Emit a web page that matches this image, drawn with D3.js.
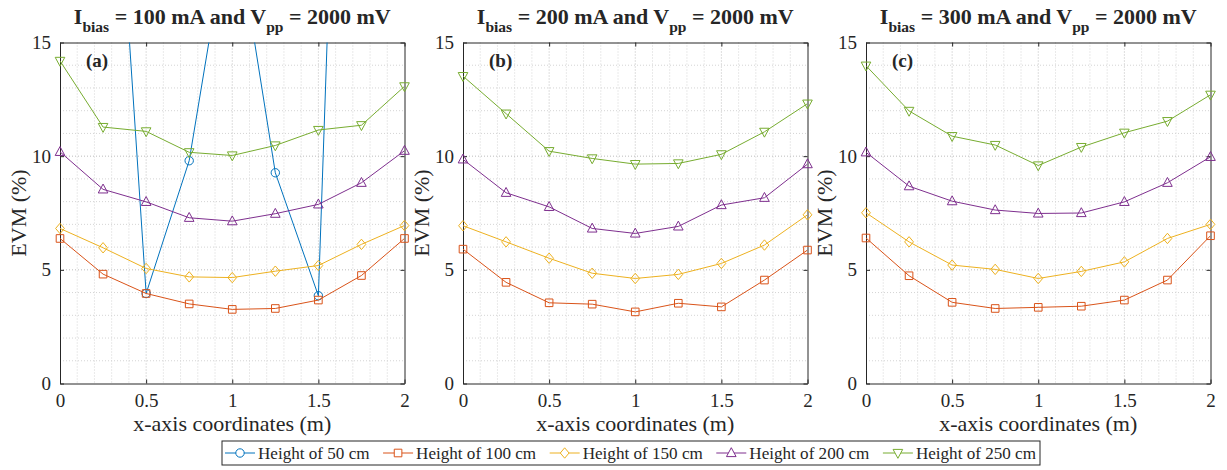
<!DOCTYPE html>
<html>
<head>
<meta charset="utf-8">
<script src="https://cdn.jsdelivr.net/npm/d3@7"></script>
<style>
  html, body { margin: 0; padding: 0; background: #fff; }
  svg { display: block; }
</style>
</head>
<body>
<svg id="chart" width="1227" height="470" font-family="Liberation Serif"></svg>
<script>
// x positions along the measurement line (m)
const xCoords = [0, 0.25, 0.5, 0.75, 1, 1.25, 1.5, 1.75, 2];
const xTicks = [0, 0.5, 1, 1.5, 2];
const yTicks = [0, 5, 10, 15];

const seriesNames = ["Height of 50 cm", "Height of 100 cm", "Height of 150 cm", "Height of 200 cm", "Height of 250 cm"];
const seriesColors = ["#0072BD", "#D95319", "#EDB120", "#7E2F8E", "#77AC30"];
const seriesMarkers = ["circle", "square", "diamond", "triangleUp", "triangleDown"];

const panelLetters = ["(a)", "(b)", "(c)"];
const biasCurrents = ["100", "200", "300"];

// EVM (%) at Ibias = 100 mA
const evm100_h50  = [45, 32.6, 3.96, 9.80, 21.2, 9.27, 3.86, 59, 70];
const evm100_h100 = [6.38, 4.81, 3.96, 3.50, 3.26, 3.30, 3.67, 4.75, 6.38];
const evm100_h150 = [6.82, 5.97, 5.06, 4.69, 4.66, 4.94, 5.19, 6.12, 6.95];
const evm100_h200 = [10.19, 8.54, 7.99, 7.29, 7.14, 7.47, 7.88, 8.83, 10.24];
const evm100_h250 = [14.19, 11.28, 11.09, 10.17, 10.03, 10.47, 11.15, 11.36, 13.07];

// EVM (%) at Ibias = 200 mA
const evm200_h100 = [5.91, 4.45, 3.55, 3.49, 3.15, 3.53, 3.37, 4.55, 5.87];
const evm200_h150 = [6.94, 6.23, 5.51, 4.85, 4.62, 4.80, 5.28, 6.09, 7.42];
const evm200_h200 = [9.86, 8.39, 7.77, 6.82, 6.60, 6.91, 7.85, 8.17, 9.65];
const evm200_h250 = [13.52, 11.87, 10.22, 9.90, 9.65, 9.68, 10.08, 11.07, 12.31];

// EVM (%) at Ibias = 300 mA
const evm300_h100 = [6.40, 4.74, 3.57, 3.30, 3.35, 3.40, 3.67, 4.55, 6.50];
const evm300_h150 = [7.51, 6.23, 5.21, 5.02, 4.62, 4.93, 5.35, 6.38, 7.00];
const evm300_h200 = [10.17, 8.68, 8.02, 7.63, 7.48, 7.50, 7.99, 8.83, 9.97];
const evm300_h250 = [13.98, 11.99, 10.88, 10.49, 9.59, 10.40, 11.03, 11.54, 12.70];

const panelSeries = [
  [evm100_h50, evm100_h100, evm100_h150, evm100_h200, evm100_h250],
  [null, evm200_h100, evm200_h150, evm200_h200, evm200_h250],
  [null, evm300_h100, evm300_h150, evm300_h200, evm300_h250]
];

const FONT = "Liberation Serif";
const svg = d3.select("#chart");
const axisColor = "#262626";
const plotTop = 42.5, plotBottom = 383.5;
const plotLefts = [60, 463, 866];
const plotWidth = 344.5;

// marker path generators, centred on (0,0)
function markerPath(kind) {
  switch (kind) {
    case "circle": return "M4.2,0A4.2,4.2 0 1,1 -4.2,0A4.2,4.2 0 1,1 4.2,0Z";
    case "square": return "M-3.8,-3.8H3.8V3.8H-3.8Z";
    case "diamond": return "M0,-5.2L4.4,0L0,5.2L-4.4,0Z";
    case "triangleUp": return "M0,-5.3L4.8,3.6L-4.8,3.6Z";
    case "triangleDown": return "M0,5.3L4.8,-3.6L-4.8,-3.6Z";
  }
}

function addText(parent) {
  return parent.append("text").attr("font-family", FONT).attr("fill", axisColor);
}

const defs = svg.append("defs");

panelSeries.forEach((seriesList, p) => {
  const left = plotLefts[p];
  const x = d3.scaleLinear().domain([0, 2]).range([left, left + plotWidth]);
  const y = d3.scaleLinear().domain([0, 15]).range([plotBottom, plotTop]);
  const g = svg.append("g");

  defs.append("clipPath").attr("id", "clip" + p)
    .append("rect")
    .attr("x", left).attr("y", plotTop)
    .attr("width", plotWidth).attr("height", plotBottom - plotTop);

  // grid: minor every 0.1 m / 1 %, major at tick positions
  const gridG = g.append("g");
  gridG.selectAll("line.vx").data(d3.range(1, 20).map(i => i / 10))
    .join("line")
    .attr("x1", d => x(d)).attr("x2", d => x(d))
    .attr("y1", plotTop).attr("y2", plotBottom)
    .attr("stroke", d => (Math.abs(d * 2 - Math.round(d * 2)) < 1e-6) ? "#bdbdbd" : "#d4d4d4")
    .attr("stroke-width", 1)
    .attr("stroke-dasharray", "1,2");
  gridG.selectAll("line.hy").data(d3.range(1, 15))
    .join("line")
    .attr("y1", d => y(d)).attr("y2", d => y(d))
    .attr("x1", left).attr("x2", left + plotWidth)
    .attr("stroke", d => d % 5 === 0 ? "#bdbdbd" : "#d4d4d4")
    .attr("stroke-width", 1)
    .attr("stroke-dasharray", "1,2");

  // axes with inward ticks on all four sides
  const xAxisB = d3.axisBottom(x).tickValues(xTicks).tickSizeInner(-4).tickSizeOuter(0).tickPadding(10)
    .tickFormat(d => d3.format("")(d));
  const xAxisT = d3.axisTop(x).tickValues(xTicks).tickSizeInner(-4).tickSizeOuter(0).tickFormat("");
  const yAxisL = d3.axisLeft(y).tickValues(yTicks).tickSizeInner(-4).tickSizeOuter(0).tickPadding(9);
  const yAxisR = d3.axisRight(y).tickValues(yTicks).tickSizeInner(-4).tickSizeOuter(0).tickFormat("");

  const styleAxis = sel => {
    sel.attr("font-family", FONT).attr("font-size", 19);
    sel.selectAll("path.domain").attr("stroke", axisColor).attr("stroke-width", 1);
    sel.selectAll(".tick line").attr("stroke", axisColor);
    sel.selectAll(".tick text").attr("fill", axisColor);
  };
  g.append("g").attr("transform", `translate(0,${plotBottom})`).call(xAxisB).call(styleAxis);
  g.append("g").attr("transform", `translate(0,${plotTop})`).call(xAxisT).call(styleAxis);
  g.append("g").attr("transform", `translate(${left},0)`).call(yAxisL).call(styleAxis);
  g.append("g").attr("transform", `translate(${left + plotWidth},0)`).call(yAxisR).call(styleAxis);

  // series lines and markers
  const line = d3.line().x((d, i) => x(xCoords[i])).y(d => y(d));
  seriesList.forEach((vals, s) => {
    if (!vals) return;
    g.append("path")
      .attr("d", line(vals))
      .attr("fill", "none")
      .attr("stroke", seriesColors[s])
      .attr("stroke-width", 1)
      .attr("clip-path", `url(#clip${p})`);
    g.selectAll(null)
      .data(vals.map((v, i) => ({ v, xv: xCoords[i] })).filter(d => d.v <= 15))
      .join("path")
      .attr("d", markerPath(seriesMarkers[s]))
      .attr("transform", d => `translate(${x(d.xv)},${y(d.v)})`)
      .attr("fill", "none")
      .attr("stroke", seriesColors[s])
      .attr("stroke-width", 1);
  });

  // title with subscripts
  const cx = left + plotWidth / 2;
  const title = addText(g)
    .attr("x", cx).attr("y", 24)
    .attr("text-anchor", "middle")
    .attr("font-weight", "bold")
    .attr("font-size", 22);
  title.append("tspan").text("I");
  title.append("tspan").attr("font-size", 15.5).attr("dy", 8).text("bias");
  title.append("tspan").attr("dy", -8).text(` = ${biasCurrents[p]} mA and V`);
  title.append("tspan").attr("font-size", 15.5).attr("dy", 8).text("pp");
  title.append("tspan").attr("dy", -8).text(" = 2000 mV");

  // panel letter
  addText(g)
    .attr("x", left + 26).attr("y", 67)
    .attr("font-weight", "bold")
    .attr("font-size", 19)
    .text(panelLetters[p]);

  // axis labels
  addText(g)
    .attr("x", cx).attr("y", 431)
    .attr("text-anchor", "middle")
    .attr("font-size", 22)
    .text("x-axis coordinates (m)");
  addText(g)
    .attr("transform", `translate(${left - 34},${(plotTop + plotBottom) / 2}) rotate(-90)`)
    .attr("text-anchor", "middle")
    .attr("font-size", 22)
    .text("EVM (%)");
});

// legend
const legend = svg.append("g");
const legBox = legend.append("rect")
  .attr("x", 222).attr("y", 441).attr("height", 24)
  .attr("fill", "#fff").attr("stroke", axisColor).attr("stroke-width", 1);
let cursor = 225;
const entryGap = 13.5;
seriesNames.forEach((name, s) => {
  const ly = 453;
  legend.append("line")
    .attr("x1", cursor).attr("x2", cursor + 30)
    .attr("y1", ly).attr("y2", ly)
    .attr("stroke", seriesColors[s]).attr("stroke-width", 1);
  legend.append("path")
    .attr("d", markerPath(seriesMarkers[s]))
    .attr("transform", `translate(${cursor + 15},${ly})`)
    .attr("fill", "#fff")
    .attr("stroke", seriesColors[s]).attr("stroke-width", 1);
  const t = addText(legend)
    .attr("x", cursor + 33).attr("y", ly + 6)
    .attr("font-size", 17.1)
    .text(name);
  cursor += 33 + t.node().getComputedTextLength() + entryGap;
});
legBox.attr("width", cursor - entryGap + 4 - 222);
</script>
</body>
</html>
